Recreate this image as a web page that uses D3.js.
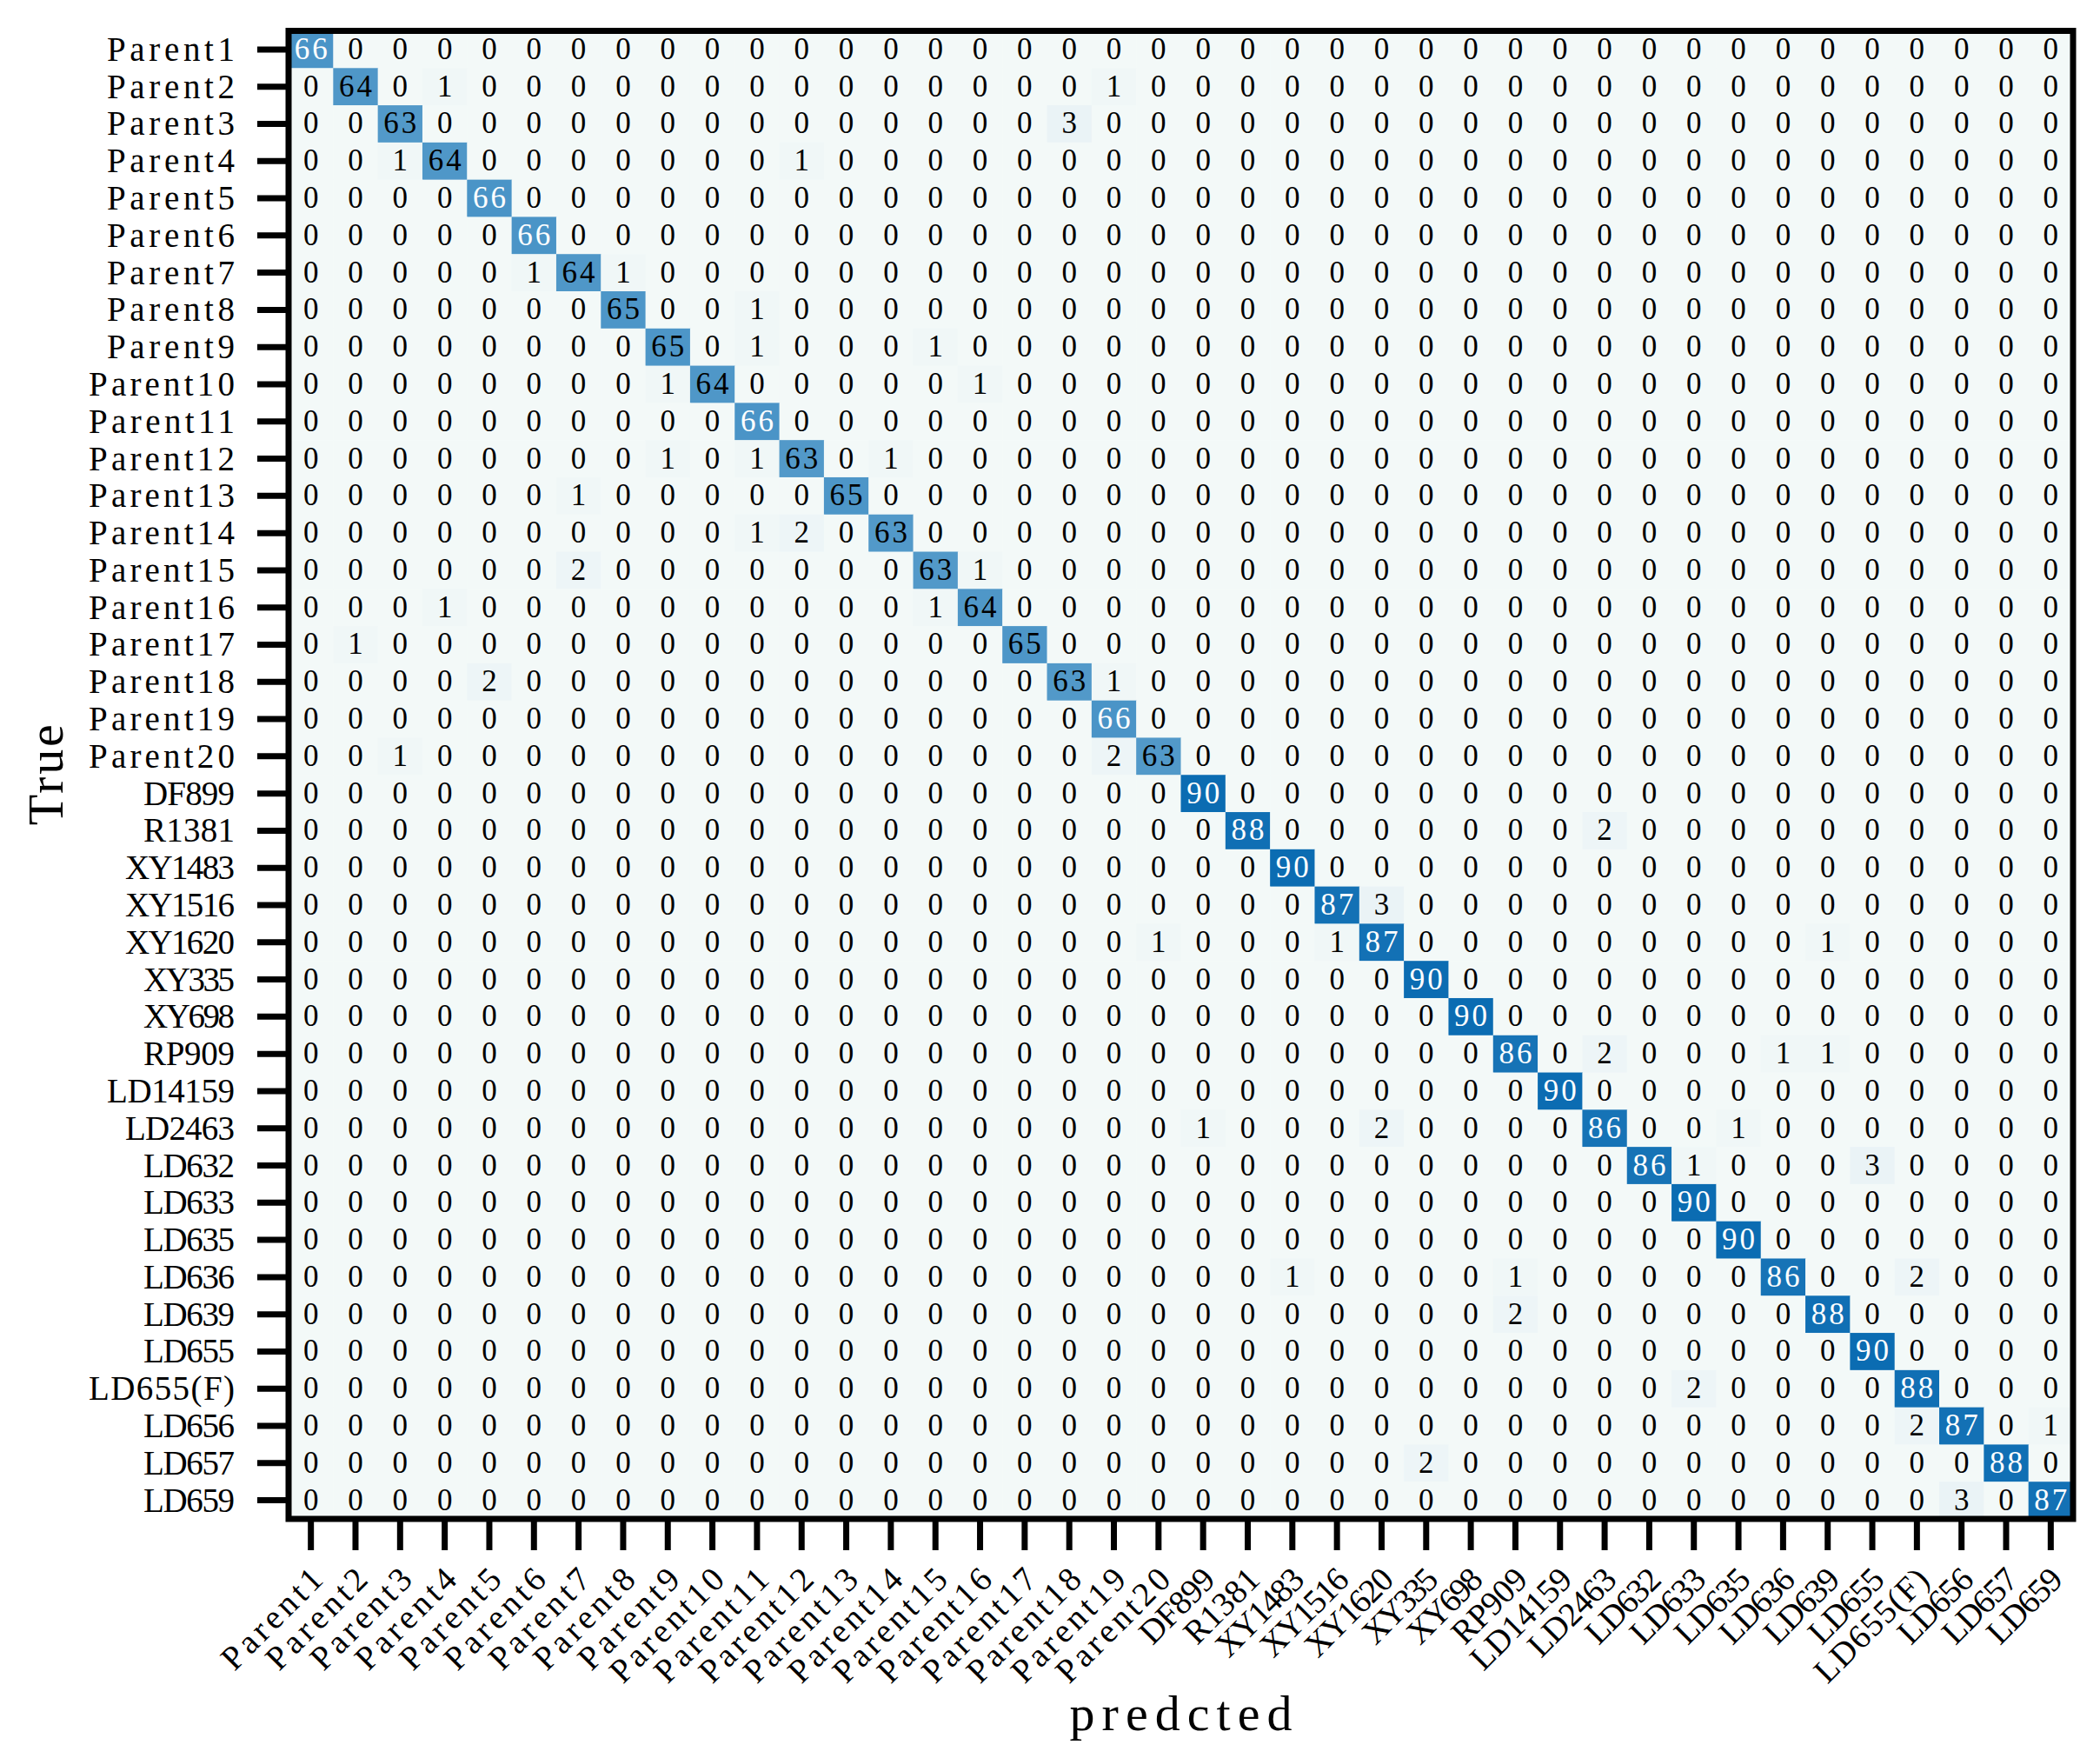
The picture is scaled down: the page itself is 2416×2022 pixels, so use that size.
<!DOCTYPE html>
<html>
<head>
<meta charset="utf-8">
<script src="https://cdn.jsdelivr.net/npm/d3@7"></script>
<style>
  body { margin: 0; background: #fff; }
  svg text { font-family: "Liberation Serif", "Noto Sans CJK SC", serif; }
</style>
</head>
<body>
<svg id="chart" width="2416" height="2022"></svg>
<script>
// class names, same order on both axes
var labels = ["Parent1", "Parent2", "Parent3", "Parent4", "Parent5", "Parent6", "Parent7", "Parent8", "Parent9", "Parent10",
  "Parent11", "Parent12", "Parent13", "Parent14", "Parent15", "Parent16", "Parent17", "Parent18", "Parent19", "Parent20",
  "DF899", "R1381", "XY1483", "XY1516", "XY1620", "XY335", "XY698", "RP909", "LD14159", "LD2463",
  "LD632", "LD633", "LD635", "LD636", "LD639", "LD655", "LD655(F)", "LD656", "LD657", "LD659"];

// counts, one row per true class
var counts = [
  [66,0,0,0,0,0,0,0,0,0,0,0,0,0,0,0,0,0,0,0,0,0,0,0,0,0,0,0,0,0,0,0,0,0,0,0,0,0,0,0],
  [0,64,0,1,0,0,0,0,0,0,0,0,0,0,0,0,0,0,1,0,0,0,0,0,0,0,0,0,0,0,0,0,0,0,0,0,0,0,0,0],
  [0,0,63,0,0,0,0,0,0,0,0,0,0,0,0,0,0,3,0,0,0,0,0,0,0,0,0,0,0,0,0,0,0,0,0,0,0,0,0,0],
  [0,0,1,64,0,0,0,0,0,0,0,1,0,0,0,0,0,0,0,0,0,0,0,0,0,0,0,0,0,0,0,0,0,0,0,0,0,0,0,0],
  [0,0,0,0,66,0,0,0,0,0,0,0,0,0,0,0,0,0,0,0,0,0,0,0,0,0,0,0,0,0,0,0,0,0,0,0,0,0,0,0],
  [0,0,0,0,0,66,0,0,0,0,0,0,0,0,0,0,0,0,0,0,0,0,0,0,0,0,0,0,0,0,0,0,0,0,0,0,0,0,0,0],
  [0,0,0,0,0,1,64,1,0,0,0,0,0,0,0,0,0,0,0,0,0,0,0,0,0,0,0,0,0,0,0,0,0,0,0,0,0,0,0,0],
  [0,0,0,0,0,0,0,65,0,0,1,0,0,0,0,0,0,0,0,0,0,0,0,0,0,0,0,0,0,0,0,0,0,0,0,0,0,0,0,0],
  [0,0,0,0,0,0,0,0,65,0,1,0,0,0,1,0,0,0,0,0,0,0,0,0,0,0,0,0,0,0,0,0,0,0,0,0,0,0,0,0],
  [0,0,0,0,0,0,0,0,1,64,0,0,0,0,0,1,0,0,0,0,0,0,0,0,0,0,0,0,0,0,0,0,0,0,0,0,0,0,0,0],
  [0,0,0,0,0,0,0,0,0,0,66,0,0,0,0,0,0,0,0,0,0,0,0,0,0,0,0,0,0,0,0,0,0,0,0,0,0,0,0,0],
  [0,0,0,0,0,0,0,0,1,0,1,63,0,1,0,0,0,0,0,0,0,0,0,0,0,0,0,0,0,0,0,0,0,0,0,0,0,0,0,0],
  [0,0,0,0,0,0,1,0,0,0,0,0,65,0,0,0,0,0,0,0,0,0,0,0,0,0,0,0,0,0,0,0,0,0,0,0,0,0,0,0],
  [0,0,0,0,0,0,0,0,0,0,1,2,0,63,0,0,0,0,0,0,0,0,0,0,0,0,0,0,0,0,0,0,0,0,0,0,0,0,0,0],
  [0,0,0,0,0,0,2,0,0,0,0,0,0,0,63,1,0,0,0,0,0,0,0,0,0,0,0,0,0,0,0,0,0,0,0,0,0,0,0,0],
  [0,0,0,1,0,0,0,0,0,0,0,0,0,0,1,64,0,0,0,0,0,0,0,0,0,0,0,0,0,0,0,0,0,0,0,0,0,0,0,0],
  [0,1,0,0,0,0,0,0,0,0,0,0,0,0,0,0,65,0,0,0,0,0,0,0,0,0,0,0,0,0,0,0,0,0,0,0,0,0,0,0],
  [0,0,0,0,2,0,0,0,0,0,0,0,0,0,0,0,0,63,1,0,0,0,0,0,0,0,0,0,0,0,0,0,0,0,0,0,0,0,0,0],
  [0,0,0,0,0,0,0,0,0,0,0,0,0,0,0,0,0,0,66,0,0,0,0,0,0,0,0,0,0,0,0,0,0,0,0,0,0,0,0,0],
  [0,0,1,0,0,0,0,0,0,0,0,0,0,0,0,0,0,0,2,63,0,0,0,0,0,0,0,0,0,0,0,0,0,0,0,0,0,0,0,0],
  [0,0,0,0,0,0,0,0,0,0,0,0,0,0,0,0,0,0,0,0,90,0,0,0,0,0,0,0,0,0,0,0,0,0,0,0,0,0,0,0],
  [0,0,0,0,0,0,0,0,0,0,0,0,0,0,0,0,0,0,0,0,0,88,0,0,0,0,0,0,0,2,0,0,0,0,0,0,0,0,0,0],
  [0,0,0,0,0,0,0,0,0,0,0,0,0,0,0,0,0,0,0,0,0,0,90,0,0,0,0,0,0,0,0,0,0,0,0,0,0,0,0,0],
  [0,0,0,0,0,0,0,0,0,0,0,0,0,0,0,0,0,0,0,0,0,0,0,87,3,0,0,0,0,0,0,0,0,0,0,0,0,0,0,0],
  [0,0,0,0,0,0,0,0,0,0,0,0,0,0,0,0,0,0,0,1,0,0,0,1,87,0,0,0,0,0,0,0,0,0,1,0,0,0,0,0],
  [0,0,0,0,0,0,0,0,0,0,0,0,0,0,0,0,0,0,0,0,0,0,0,0,0,90,0,0,0,0,0,0,0,0,0,0,0,0,0,0],
  [0,0,0,0,0,0,0,0,0,0,0,0,0,0,0,0,0,0,0,0,0,0,0,0,0,0,90,0,0,0,0,0,0,0,0,0,0,0,0,0],
  [0,0,0,0,0,0,0,0,0,0,0,0,0,0,0,0,0,0,0,0,0,0,0,0,0,0,0,86,0,2,0,0,0,1,1,0,0,0,0,0],
  [0,0,0,0,0,0,0,0,0,0,0,0,0,0,0,0,0,0,0,0,0,0,0,0,0,0,0,0,90,0,0,0,0,0,0,0,0,0,0,0],
  [0,0,0,0,0,0,0,0,0,0,0,0,0,0,0,0,0,0,0,0,1,0,0,0,2,0,0,0,0,86,0,0,1,0,0,0,0,0,0,0],
  [0,0,0,0,0,0,0,0,0,0,0,0,0,0,0,0,0,0,0,0,0,0,0,0,0,0,0,0,0,0,86,1,0,0,0,3,0,0,0,0],
  [0,0,0,0,0,0,0,0,0,0,0,0,0,0,0,0,0,0,0,0,0,0,0,0,0,0,0,0,0,0,0,90,0,0,0,0,0,0,0,0],
  [0,0,0,0,0,0,0,0,0,0,0,0,0,0,0,0,0,0,0,0,0,0,0,0,0,0,0,0,0,0,0,0,90,0,0,0,0,0,0,0],
  [0,0,0,0,0,0,0,0,0,0,0,0,0,0,0,0,0,0,0,0,0,0,1,0,0,0,0,1,0,0,0,0,0,86,0,0,2,0,0,0],
  [0,0,0,0,0,0,0,0,0,0,0,0,0,0,0,0,0,0,0,0,0,0,0,0,0,0,0,2,0,0,0,0,0,0,88,0,0,0,0,0],
  [0,0,0,0,0,0,0,0,0,0,0,0,0,0,0,0,0,0,0,0,0,0,0,0,0,0,0,0,0,0,0,0,0,0,0,90,0,0,0,0],
  [0,0,0,0,0,0,0,0,0,0,0,0,0,0,0,0,0,0,0,0,0,0,0,0,0,0,0,0,0,0,0,2,0,0,0,0,88,0,0,0],
  [0,0,0,0,0,0,0,0,0,0,0,0,0,0,0,0,0,0,0,0,0,0,0,0,0,0,0,0,0,0,0,0,0,0,0,0,2,87,0,1],
  [0,0,0,0,0,0,0,0,0,0,0,0,0,0,0,0,0,0,0,0,0,0,0,0,0,2,0,0,0,0,0,0,0,0,0,0,0,0,88,0],
  [0,0,0,0,0,0,0,0,0,0,0,0,0,0,0,0,0,0,0,0,0,0,0,0,0,0,0,0,0,0,0,0,0,0,0,0,0,3,0,87]
];

var xTitle = "predcted";
var yTitle = "True";

var svg = d3.select("#chart");
var plotLeft = 332, plotRight = 2385, plotTop = 35.5, plotBottom = 1747;

// the original used a CJK serif where latin chars take half an em;
// textLength emulates that spacing
function simWidth(s, em) {
  var w = 0;
  for (var ch of s) w += ch.charCodeAt(0) > 0x2000 ? em : em / 2;
  return w;
}

var x = d3.scaleBand().domain(labels).range([plotLeft, plotRight]);
var y = d3.scaleBand().domain(labels).range([plotTop, plotBottom]);

var color = d3.scaleLinear()
    .domain([0, 3, 66, 90])
    .range(["#f3f9f8", "#eaf3f6", "#4a94c7", "#0b6cb2"]);

var cells = [];
counts.forEach(function(row, i) {
  row.forEach(function(v, j) {
    cells.push({row: labels[i], col: labels[j], value: v});
  });
});

svg.append("g").selectAll("rect")
  .data(cells)
  .enter().append("rect")
    .attr("x", function(d) { return x(d.col); })
    .attr("y", function(d) { return y(d.row); })
    .attr("width", x.bandwidth() + 0.5)
    .attr("height", y.bandwidth() + 0.5)
    .attr("fill", function(d) { return color(d.value); });

svg.append("g").selectAll("text")
  .data(cells)
  .enter().append("text")
    .attr("x", function(d) { return x(d.col) + x.bandwidth() / 2 + (d.value > 9 ? 1.5 : 0); })
    .attr("y", function(d) { return y(d.row) + y.bandwidth() / 2 + 11; })
    .attr("text-anchor", "middle")
    .attr("font-size", 35)
    .attr("letter-spacing", function(d) { return d.value > 9 ? 3 : 0; })
    .attr("fill", function(d) { return d.value > 65.5 ? "#fff" : "#000"; })
    .text(function(d) { return d.value; });

// axes
var yAxis = svg.append("g")
    .attr("transform", "translate(" + plotLeft + ",0)")
    .call(d3.axisLeft(y).tickSize(36).tickPadding(26));

var xAxis = svg.append("g")
    .attr("transform", "translate(0," + plotBottom + ")")
    .call(d3.axisBottom(x).tickSize(36));

svg.selectAll(".domain").remove();
svg.selectAll(".tick line").attr("stroke", "#000").attr("stroke-width", 7);

yAxis.selectAll("text")
    .attr("font-size", 39)
    .attr("fill", "#000")
    .attr("dy", null)
    .attr("y", 13)
    .attr("textLength", function(d) { return simWidth(d, 42); })
    .attr("lengthAdjust", "spacing");

xAxis.selectAll("text")
    .attr("font-size", 39)
    .attr("fill", "#000")
    .attr("text-anchor", "end")
    .attr("x", 0)
    .attr("y", 0)
    .attr("dy", null)
    .attr("transform", "translate(16,72) rotate(-45)")
    .attr("textLength", function(d) { return simWidth(d, 42); })
    .attr("lengthAdjust", "spacing");

svg.selectAll(".tick text").attr("font-family", null);

// frame
svg.append("rect")
    .attr("x", plotLeft)
    .attr("y", plotTop)
    .attr("width", plotRight - plotLeft)
    .attr("height", plotBottom - plotTop)
    .attr("fill", "none")
    .attr("stroke", "#000")
    .attr("stroke-width", 7);

// axis titles
svg.append("text")
    .attr("x", (plotLeft + plotRight) / 2)
    .attr("y", 1990)
    .attr("text-anchor", "middle")
    .attr("font-size", 58)
    .attr("textLength", simWidth(xTitle, 64))
    .attr("lengthAdjust", "spacing")
    .text(xTitle);

svg.append("text")
    .attr("transform", "translate(72," + ((plotTop + plotBottom) / 2) + ") rotate(-90)")
    .attr("text-anchor", "middle")
    .attr("font-size", 58)
    .attr("textLength", simWidth(yTitle, 58))
    .attr("lengthAdjust", "spacing")
    .text(yTitle);
</script>
</body>
</html>
